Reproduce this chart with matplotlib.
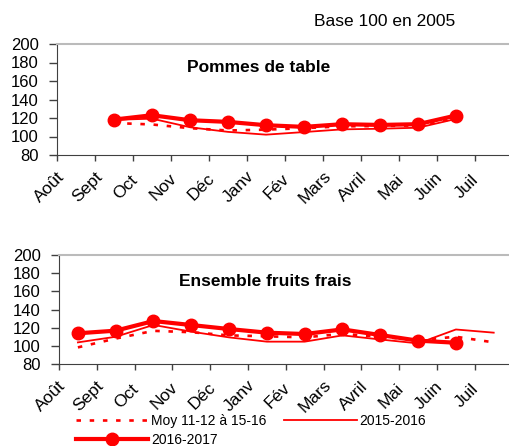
import numpy as np
import matplotlib
matplotlib.use('Agg')
import matplotlib.pyplot as plt
from matplotlib.transforms import ScaledTranslation

plt.rcParams['font.family'] = ['Liberation Sans', 'DejaVu Sans']

mois = ['Août', 'Sept', 'Oct', 'Nov', 'Déc', 'Janv', 'Fév', 'Mars', 'Avril', 'Mai', 'Juin', 'Juil']
nan = np.nan

# Pommes de table
pom_moy = [nan, 114.6, 113, 109, 106.5, 107.4, 109, 111, 111.3, 112, 119.5, nan]
pom_1516 = [nan, 118, 119.3, 110, 105, 102, 104.8, 107.7, 108.4, 109.5, 119, nan]
pom_1617 = [nan, 118.3, 123, 117.6, 115.8, 112.2, 110.4, 113.3, 112.5, 113.3, 122.7, nan]

# Ensemble fruits frais
fru_moy = [98.3, 108, 116.5, 115, 111.5, 110.5, 109.3, 113.2, 110, 106.2, 110, 103.8]
fru_1516 = [103.8, 110, 123, 115.6, 109.3, 104.6, 104.6, 111.5, 107, 102.7, 118, 114.5]
fru_1617 = [113.8, 116.7, 127.3, 122.9, 118.5, 114.5, 113, 118.1, 111.9, 105.7, 103.4, nan]

labels = ['Moy 11-12 à 15-16', '2015-2016', '2016-2017']
rouge = '#FF0000'

fig = plt.figure(figsize=(5.09, 4.46), dpi=100)
W, H = 509, 446


def panel(left, top, bottom, step, titre, tx, ty, moy, s1516, s1617):
    ax = fig.add_axes([left / W, 1 - bottom / H, 12 * step / W, (bottom - top) / H])
    x = np.arange(12)
    l1, = ax.plot(x, moy, color=rouge, lw=1.9, ls=(0, (1.7, 3.3)))
    l2, = ax.plot(x, s1516, color=rouge, lw=1.3)
    l3, = ax.plot(x, s1617, color=rouge, lw=3.0, marker='o', ms=9)
    ax.set_xlim(-0.5, 11.5)
    ax.set_ylim(80, 200)
    ax.set_yticks(range(80, 201, 20))
    ax.set_xticks(np.arange(-0.5, 12, 1))
    ax.set_xticklabels([])
    ax.tick_params(axis='x', direction='out', length=4, width=1, color='#404040')
    ax.tick_params(axis='y', direction='out', length=6, width=1, labelsize=12, pad=7,
                   color='#404040')
    ax.spines['right'].set_visible(False)
    ax.spines['top'].set_color('#BBBBBB')
    ax.spines['top'].set_linewidth(1.5)
    ax.spines['left'].set_color('#404040')
    ax.spines['bottom'].set_color('#404040')
    off = ScaledTranslation(-27 / 100, -32 / 100, fig.dpi_scale_trans)
    for i, m in enumerate(mois):
        ax.text(i, 0, m, transform=ax.get_xaxis_transform() + off, rotation=45,
                ha='center', va='center', fontsize=12.5)
    fig.text(tx / W, 1 - ty / H, titre, ha='center', va='center', fontsize=12.5,
             fontweight='bold')
    return l1, l2, l3


panel(57, 44, 155, 38, 'Pommes de table', 259, 68, pom_moy, pom_1516, pom_1617)
h1, h2, h3 = panel(59, 255, 364, 37.8, 'Ensemble fruits frais', 265, 282,
                   fru_moy, fru_1516, fru_1617)

fig.text(385 / W, 1 - 22 / H, 'Base 100 en 2005', ha='center', va='center', fontsize=12.5)

fig.legend([h1, h3, h2], [labels[0], labels[2], labels[1]], ncol=2, frameon=False,
           loc='upper left', bbox_to_anchor=(76 / W, 1 - 414 / H), borderpad=0,
           borderaxespad=0, handlelength=5.2, handletextpad=0.2, columnspacing=1.3,
           labelspacing=0.35, fontsize=10)

fig.savefig('out.png', dpi=100)
